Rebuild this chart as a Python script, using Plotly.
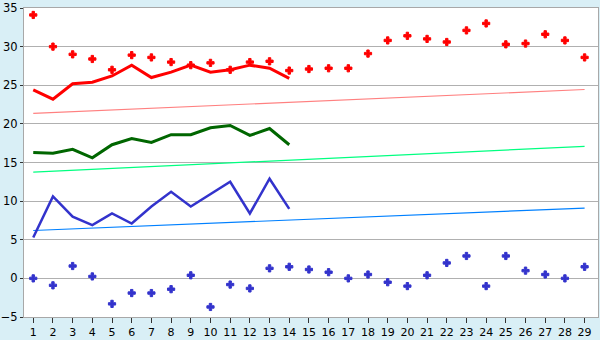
import plotly.graph_objects as go

days = list(range(1, 30))
line_days = list(range(1, 15))

red_markers = [34.1, 30.0, 29.0, 28.4, 27.0, 28.9, 28.6, 28.0, 27.6, 27.9, 27.0, 28.0, 28.1, 26.9,
               27.1, 27.2, 27.2, 29.1, 30.8, 31.4, 31.0, 30.6, 32.1, 33.0, 30.3, 30.4, 31.6, 30.8, 28.6]
red_line = [24.4, 23.2, 25.2, 25.4, 26.2, 27.6, 26.0, 26.7, 27.6, 26.7, 27.0, 27.6, 27.2, 25.9]
green_line = [16.3, 16.2, 16.7, 15.6, 17.3, 18.1, 17.6, 18.6, 18.6, 19.5, 19.8, 18.5, 19.4, 17.3]
blue_line = [5.3, 10.6, 8.0, 6.9, 8.4, 7.1, 9.3, 11.2, 9.3, 10.9, 12.5, 8.4, 12.9, 9.0]
blue_markers = [0.0, -0.9, 1.6, 0.25, -3.3, -1.9, -1.9, -1.4, 0.4, -3.7, -0.8, -1.3, 1.3, 1.5,
                1.15, 0.8, 0.0, 0.5, -0.5, -1.0, 0.4, 2.0, 2.9, -1.0, 2.9, 1.0, 0.5, 0.0, 1.5]
trend_days = [1, 29]
red_trend = [21.35, 24.45]
green_trend = [13.75, 17.1]
blue_trend = [6.2, 9.1]

RED = "#ff0000"
PINK = "#ff8080"
GREEN = "#006600"
SPRING = "#00ff80"
BLUE = "#3333cc"
SKY = "#0080ff"

fig = go.Figure()
fig.add_trace(go.Scatter(x=trend_days, y=red_trend, mode="lines", line=dict(color=PINK, width=1.2)))
fig.add_trace(go.Scatter(x=trend_days, y=green_trend, mode="lines", line=dict(color=SPRING, width=1.2)))
fig.add_trace(go.Scatter(x=trend_days, y=blue_trend, mode="lines", line=dict(color=SKY, width=1.2)))
fig.add_trace(go.Scatter(x=line_days, y=red_line, mode="lines", line=dict(color=RED, width=3)))
fig.add_trace(go.Scatter(x=line_days, y=green_line, mode="lines", line=dict(color=GREEN, width=3)))
fig.add_trace(go.Scatter(x=line_days, y=blue_line, mode="lines", line=dict(color=BLUE, width=2.5)))
fig.add_trace(go.Scatter(x=days, y=red_markers, mode="markers",
                         marker=dict(symbol="cross", size=6, color=RED,
                                     line=dict(color=RED, width=1))))
fig.add_trace(go.Scatter(x=days, y=blue_markers, mode="markers",
                         marker=dict(symbol="cross", size=6, color=BLUE,
                                     line=dict(color=BLUE, width=1))))

fig.update_layout(
    width=600, height=340,
    margin=dict(l=20, r=1, t=5, b=21),
    paper_bgcolor="#d9eff6",
    plot_bgcolor="#ffffff",
    showlegend=False,
    font=dict(family="DejaVu Sans", size=11, color="#000000"),
    xaxis=dict(range=[0.53, 29.68], tickmode="array", tickvals=days,
               showgrid=False, zeroline=False,
               showline=True, linecolor="#a8a8a8", linewidth=1, mirror=True,
               ticks="outside", ticklen=5, tickcolor="#333333",
               tickfont=dict(size=11)),
    yaxis=dict(range=[-5, 35], tickmode="array", tickvals=list(range(-5, 36, 5)),
               showgrid=True, gridcolor="#b0b0b0", gridwidth=1, zeroline=False,
               showline=True, linecolor="#a8a8a8", linewidth=1, mirror=True,
               ticks="outside", ticklen=3, tickcolor="#333333",
               ticklabeloverflow="allow",
               tickfont=dict(size=11.5)),
)

fig.write_html("out.html")
